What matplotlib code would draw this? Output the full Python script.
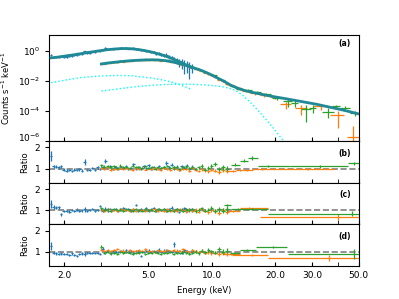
import numpy as np
import matplotlib
matplotlib.use("Agg")
import matplotlib.pyplot as plt
from matplotlib.ticker import FixedLocator, NullLocator, FuncFormatter
from matplotlib.transforms import ScaledTranslation

# ---------------- NICER (blue) ----------------
ni_e = [1.73, 1.78, 1.83, 1.88, 1.93, 1.99, 2.05, 2.11, 2.17, 2.23,
        2.29, 2.36, 2.43, 2.50, 2.57, 2.64, 2.72, 2.80, 2.88, 2.96,
        3.04, 3.13, 3.22, 3.31, 3.40, 3.50, 3.60, 3.70, 3.81, 3.92,
        4.03, 4.14, 4.26, 4.38, 4.50, 4.63, 4.76, 4.89, 5.03, 5.17,
        5.32, 5.47, 5.62, 5.78, 5.94, 6.11, 6.28, 6.46, 6.64, 6.83,
        7.02, 7.22, 7.42, 7.63, 7.85, 8.07]
ni_model = [0.36, 0.37, 0.39, 0.41, 0.43, 0.46, 0.49, 0.52, 0.55, 0.58,
            0.62, 0.66, 0.70, 0.75, 0.80, 0.85, 0.90, 0.96, 1.02, 1.08,
            1.14, 1.20, 1.26, 1.31, 1.36, 1.41, 1.45, 1.48, 1.50, 1.50,
            1.48, 1.45, 1.40, 1.34, 1.27, 1.20, 1.12, 1.04, 0.96, 0.88,
            0.80, 0.72, 0.65, 0.58, 0.51, 0.45, 0.39, 0.33, 0.28, 0.24,
            0.20, 0.17, 0.14, 0.115, 0.095, 0.078]
ni_cnt_err = [0.20, 0.18, 0.18, 0.18, 0.16, 0.16, 0.15, 0.15, 0.14, 0.14,
              0.13, 0.13, 0.12, 0.12, 0.12, 0.11, 0.11, 0.11, 0.10, 0.10,
              0.10, 0.10, 0.10, 0.10, 0.10, 0.10, 0.10, 0.10, 0.10, 0.10,
              0.10, 0.11, 0.11, 0.11, 0.12, 0.12, 0.13, 0.13, 0.14, 0.15,
              0.16, 0.17, 0.18, 0.20, 0.22, 0.25, 0.28, 0.32, 0.38, 0.45,
              0.55, 0.65, 0.80, 0.72, 0.85, 0.60]
ni_rat_b = [1.60, 1.10, 1.08, 1.05, 1.10, 0.95, 0.90, 0.93, 0.88, 0.95,
            0.92, 0.96, 0.90, 1.30, 0.94, 0.92, 1.02, 0.95, 1.05, 0.97,
            1.08, 1.35, 1.03, 1.10, 0.97, 1.05, 1.00, 1.08, 1.02, 1.12,
            0.98, 1.04, 1.20, 1.00, 1.06, 0.97, 1.10, 1.03, 1.15, 1.00,
            1.05, 0.96, 1.12, 1.03, 1.08, 1.25, 1.05, 1.18, 1.02, 1.08,
            0.96, 1.10, 1.04, 1.14, 1.00, 1.06]
ni_rat_c = [1.28, 1.15, 1.12, 1.14, 0.80, 0.95, 0.97, 0.93, 1.00, 0.96,
            1.02, 0.95, 0.99, 1.04, 0.97, 1.00, 1.06, 0.96, 1.02, 1.20,
            0.95, 1.05, 0.98, 1.04, 1.00, 1.07, 0.97, 1.03, 1.10, 0.99,
            1.05, 0.96, 1.02, 1.25, 0.98, 1.04, 1.00, 1.08, 0.97, 1.03,
            1.10, 0.98, 1.05, 1.00, 1.07, 0.96, 1.04, 1.12, 0.99, 1.05,
            0.92, 1.03, 1.08, 0.98, 1.04, 1.00]
ni_rat_d = [1.28, 0.95, 0.93, 0.90, 0.92, 0.88, 0.90, 0.86, 0.92, 0.84,
            0.78, 0.88, 0.92, 0.90, 0.95, 0.93, 0.96, 0.92, 0.95, 0.90,
            1.15, 0.98, 1.02, 0.96, 1.04, 1.00, 0.97, 1.05, 1.00, 1.08,
            0.98, 1.03, 0.96, 1.04, 1.00, 0.80, 0.97, 1.02, 1.05, 0.99,
            1.04, 0.97, 1.10, 1.00, 1.06, 1.06, 1.02, 0.98, 1.35, 1.00,
            1.04, 0.96, 1.08, 1.02, 0.98, 1.05]
ni_rat_err = [0.15, 0.07, 0.07, 0.07, 0.07, 0.06, 0.06, 0.06, 0.06, 0.06,
              0.06, 0.06, 0.06, 0.10, 0.05, 0.05, 0.05, 0.05, 0.05, 0.05,
              0.05, 0.08, 0.05, 0.05, 0.05, 0.05, 0.05, 0.05, 0.05, 0.05,
              0.05, 0.05, 0.07, 0.05, 0.05, 0.05, 0.05, 0.05, 0.06, 0.05,
              0.05, 0.05, 0.06, 0.05, 0.05, 0.07, 0.05, 0.06, 0.08, 0.06,
              0.06, 0.07, 0.07, 0.08, 0.08, 0.09]

# ---------------- NuSTAR (orange = FPMA, green = FPMB) ----------------
nu_e = [3.00, 3.10, 3.21, 3.32, 3.44, 3.56, 3.68, 3.81, 3.94, 4.08,
        4.22, 4.37, 4.52, 4.68, 4.84, 5.01, 5.19, 5.37, 5.56, 5.75,
        5.95, 6.16, 6.38, 6.60, 6.83, 7.07, 7.32, 7.58, 7.84, 8.12,
        8.40, 8.70, 9.00, 9.32, 9.65, 9.99, 10.4, 10.8, 11.3, 11.8]
nu_model = [0.140, 0.150, 0.160, 0.170, 0.180, 0.190, 0.200, 0.210, 0.219, 0.228,
            0.236, 0.243, 0.250, 0.256, 0.261, 0.264, 0.265, 0.263, 0.258, 0.250,
            0.238, 0.223, 0.205, 0.186, 0.166, 0.146, 0.127, 0.111, 0.098, 0.083,
            0.070, 0.060, 0.050, 0.041, 0.033, 0.026, 0.020, 0.015, 0.011, 0.0078]
nu_tail_e = [12.4, 13.2, 14.2, 15.3, 16.6, 18.2, 20.0, 22.5, 25.0, 28.0,
             31.5, 35.5, 40.0, 45.0, 50.0]
nu_tail_model = [5.2e-3, 3.6e-3, 2.5e-3, 1.9e-3, 1.5e-3, 1.15e-3, 9.0e-4, 6.8e-4,
                 5.2e-4, 3.9e-4, 2.9e-4, 2.0e-4, 1.4e-4, 9.5e-5, 6.5e-5]
nu_err = [0.06, 0.06, 0.055, 0.055, 0.05, 0.05, 0.05, 0.05, 0.045, 0.045,
          0.045, 0.045, 0.045, 0.045, 0.045, 0.045, 0.045, 0.045, 0.045, 0.045,
          0.045, 0.045, 0.05, 0.05, 0.05, 0.05, 0.055, 0.055, 0.06, 0.06,
          0.065, 0.07, 0.07, 0.075, 0.08, 0.085, 0.09, 0.10, 0.11, 0.12]

fa_rat_b = [1.02, 0.98, 1.05, 0.95, 1.00, 0.97, 1.04, 0.96, 1.02, 0.99,
            0.94, 1.03, 0.97, 1.01, 0.95, 1.00, 0.96, 1.04, 0.98, 0.93,
            1.02, 0.97, 0.95, 1.03, 0.98, 0.92, 1.00, 0.96, 0.90, 1.02,
            0.95, 0.88, 0.97, 0.92, 0.86, 0.95, 0.90, 0.84, 0.92, 0.87]
fb_rat_b = [1.15, 1.08, 1.12, 1.05, 1.10, 1.02, 1.14, 1.06, 1.09, 1.03,
            1.11, 1.05, 1.08, 1.02, 1.10, 1.04, 1.07, 1.00, 1.09, 1.03,
            1.06, 1.12, 1.01, 1.05, 1.08, 0.98, 1.06, 1.10, 1.02, 1.07,
            0.97, 1.05, 1.12, 0.95, 1.03, 1.10, 1.22, 0.96, 1.05, 1.00]
fa_rat_c = [1.03, 0.97, 1.06, 0.98, 1.01, 0.95, 1.04, 0.99, 1.02, 0.96,
            1.05, 0.98, 1.00, 1.03, 0.96, 1.02, 0.99, 1.06, 0.97, 1.01,
            0.95, 1.04, 0.98, 1.02, 0.97, 1.05, 0.99, 0.94, 1.03, 0.98,
            1.02, 0.93, 1.04, 0.97, 0.90, 1.01, 0.95, 0.88, 1.00, 0.93]
fb_rat_c = [1.08, 1.00, 1.04, 0.97, 1.06, 0.99, 1.03, 0.95, 1.05, 1.00,
            0.97, 1.04, 1.01, 0.96, 1.06, 0.99, 1.02, 0.95, 1.04, 1.00,
            1.07, 0.98, 1.02, 0.96, 1.05, 1.00, 0.97, 1.04, 0.99, 1.06,
            0.95, 1.03, 1.08, 0.97, 1.02, 1.10, 0.96, 1.04, 0.98, 1.05]
fa_rat_d = [1.10, 1.04, 1.08, 1.02, 1.07, 1.12, 1.03, 1.06, 1.00, 1.09,
            1.05, 1.02, 1.08, 1.04, 1.11, 1.03, 1.06, 1.01, 1.09, 1.05,
            1.02, 1.08, 1.04, 1.10, 1.06, 1.03, 1.12, 1.05, 1.00, 1.07,
            1.02, 0.97, 1.04, 0.95, 0.99, 0.92, 0.96, 0.90, 0.94, 0.89]
fb_rat_d = [1.25, 0.95, 0.98, 0.92, 0.96, 0.90, 0.97, 0.93, 0.99, 0.94,
            0.91, 0.96, 0.93, 0.98, 0.90, 0.95, 0.92, 0.97, 0.94, 0.89,
            0.96, 0.93, 0.98, 0.91, 0.95, 0.92, 0.97, 0.94, 0.90, 0.96,
            1.00, 0.93, 1.05, 0.97, 1.08, 1.02, 0.96, 1.12, 1.00, 1.06]

# high-energy spectral bins in the top panel
fa_hi_e = [12.4, 13.4, 14.6, 16.0, 17.8, 20.0, 22.5, 26.6, 33.0, 39.7, 47.0]
fa_hi_xerr = [0.4, 0.5, 0.6, 0.7, 0.8, 1.0, 1.3, 1.8, 2.5, 3.0, 3.0]
fa_hi_cnt = [5.4e-3, 3.3e-3, 2.3e-3, 1.6e-3, 1.25e-3, 8.5e-4, 2.8e-4, 1.6e-4,
             2.1e-4, 6.0e-5, 2.0e-6]
fa_hi_elo = [0.8e-3, 0.6e-3, 0.45e-3, 0.35e-3, 0.3e-3, 2.2e-4, 1.3e-4, 1.0e-4,
             0.9e-4, 5.3e-5, 1.99e-6]
fa_hi_ehi = [0.8e-3, 0.6e-3, 0.45e-3, 0.35e-3, 0.3e-3, 2.2e-4, 1.3e-4, 1.0e-4,
             0.9e-4, 4.0e-5, 9.0e-6]
fb_hi_e = [12.6, 13.6, 14.9, 16.4, 18.2, 20.5, 23.0, 24.8, 28.2, 30.3, 35.8,
           39.0, 43.0, 48.0]
fb_hi_xerr = [0.4, 0.5, 0.6, 0.7, 0.9, 1.1, 1.1, 0.9, 1.6, 1.2, 2.2, 1.6, 2.3, 2.3]
fb_hi_cnt = [4.6e-3, 3.2e-3, 2.6e-3, 1.8e-3, 1.3e-3, 8.0e-4, 4.6e-4, 3.6e-4,
             1.3e-4, 1.6e-4, 9.5e-5, 2.1e-4, 1.6e-4, 7.6e-5]
fb_hi_err = [0.7e-3, 0.55e-3, 0.45e-3, 0.35e-3, 0.28e-3, 2.0e-4, 2.8e-4, 1.6e-4,
             1.1e-4, 0.9e-4, 6.0e-5, 6.5e-5, 5.5e-5, 3.0e-5]

# high-energy (regrouped) bins in the ratio panels: centre, low edge, high edge, ratio, error
fa_hi_b = ([12.6, 13.6, 14.8, 17.3, 28.6], [12.0, 13.1, 14.1, 15.8, 19.8],
           [13.1, 14.1, 15.8, 19.8, 38.0], [0.88, 0.92, 0.95, 0.97, 0.98],
           [0.06, 0.06, 0.05, 0.04, 0.05])
fb_hi_b = ([12.9, 14.2, 15.5, 18.6, 32.8, 47.5], [12.4, 13.6, 14.9, 16.6, 23.5, 44.3],
           [13.6, 14.9, 16.6, 23.5, 44.3, 55.0], [1.18, 1.37, 1.49, 1.10, 1.10, 1.25],
           [0.08, 0.08, 0.09, 0.05, 0.06, 0.08])
fa_hi_c = ([12.6, 15.1, 39.7], [11.9, 13.6, 16.9], [13.6, 18.5, 55.0],
           [0.95, 1.09, 0.69], [0.05, 0.04, 0.15])
fb_hi_c = ([11.9, 13.3, 15.5, 46.6], [11.5, 12.4, 14.2, 18.5], [12.4, 14.2, 18.5, 55.0],
           [1.24, 1.04, 1.07, 0.84], [0.06, 0.05, 0.05, 0.13])
fa_hi_d = ([12.4, 15.6, 36.3], [11.3, 12.5, 18.5], [13.6, 18.5, 55.0],
           [0.89, 0.84, 0.69], [0.04, 0.04, 0.15])
fb_hi_d = ([12.8, 14.8, 19.5, 47.6], [12.2, 13.6, 16.3, 23.0], [13.6, 16.2, 22.8, 55.0],
           [0.95, 1.10, 1.22, 0.89], [0.05, 0.05, 0.05, 0.22])

# model components (dotted)
comp1_e = [1.73, 1.9, 2.1, 2.4, 2.7, 3.1, 3.6, 4.2, 4.6, 5.2, 5.7, 6.2, 6.6, 7.1, 7.5, 8.0]
comp1 = [0.008, 0.010, 0.013, 0.0175, 0.020, 0.023, 0.024, 0.023, 0.0195, 0.016,
         0.013, 0.010, 0.008, 0.0058, 0.0042, 0.0029]
comp2_e = [3.0, 3.5, 4.0, 4.6, 5.3, 6.0, 7.0, 8.0, 9.0, 10.0, 11.0, 12.0, 13.0,
           14.0, 15.0, 16.0, 17.0, 18.0, 19.0, 20.0, 21.0, 22.0, 23.0]
comp2 = [0.0022, 0.0029, 0.0037, 0.0046, 0.0054, 0.0060, 0.0063, 0.0062, 0.0058,
         0.0052, 0.0045, 0.0036, 0.0024, 0.0012, 5e-4, 2e-4, 8e-5, 3.2e-5, 1.3e-5,
         5.5e-6, 2.3e-6, 1e-6, 4.5e-7]

C_NI, C_FA, C_FB = "#1f77b4", "#ff7f0e", "#2ca02c"
C_MOD = "#1f8a96"
FS = 6.5
FS_LAB = 6


def bin_err(e):
    # half bin widths from the geometric midpoints between neighbouring bins
    e = np.asarray(e)
    mids = np.sqrt(e[1:] * e[:-1])
    lo = np.r_[e[0] ** 2 / mids[0], mids]
    hi = np.r_[mids, e[-1] ** 2 / mids[-1]]
    return np.vstack([e - lo, hi - e])


fig = plt.figure(figsize=(3.99, 2.99), dpi=100)
gs = fig.add_gridspec(4, 1, height_ratios=[2.55, 1, 1, 1], hspace=0,
                      left=0.124, right=0.899, top=0.883, bottom=0.110)
axs = [fig.add_subplot(gs[0])]
for i in range(1, 4):
    axs.append(fig.add_subplot(gs[i], sharex=axs[0]))

ekw = dict(fmt="none", elinewidth=0.9, capsize=0)

# ---- (a) spectrum ----
ax = axs[0]
ni_cnt = np.array(ni_model) * np.array(ni_rat_b)
ax.errorbar(ni_e, ni_cnt, xerr=bin_err(ni_e), yerr=ni_cnt * np.array(ni_cnt_err),
            ecolor=C_NI, zorder=2, **ekw)
for rat, col, he, hx, hc, hel, heh in [
        (fa_rat_b, C_FA, fa_hi_e, fa_hi_xerr, fa_hi_cnt, fa_hi_elo, fa_hi_ehi),
        (fb_rat_b, C_FB, fb_hi_e, fb_hi_xerr, fb_hi_cnt, fb_hi_err, fb_hi_err)]:
    cnt = np.array(nu_model) * np.array(rat)
    ax.errorbar(nu_e, cnt, xerr=bin_err(nu_e), yerr=cnt * np.array(nu_err),
                ecolor=col, zorder=2, **ekw)
    ax.errorbar(he, hc, xerr=hx, yerr=[hel, heh], ecolor=col, zorder=2, **ekw)

ax.plot(ni_e, ni_model, color=C_MOD, lw=2, zorder=4)
ax.plot(np.r_[nu_e, nu_tail_e], np.r_[nu_model, nu_tail_model], color=C_MOD, lw=2, zorder=4)
ax.plot(comp1_e, comp1, color="cyan", ls=":", lw=1, zorder=3)
ax.plot(comp2_e, comp2, color="cyan", ls=":", lw=1, zorder=3)

ax.set_yscale("log")
ax.set_ylim(1e-6, 12)
ax.yaxis.set_major_locator(FixedLocator([1e-6, 1e-4, 1e-2, 1]))
ax.yaxis.set_minor_locator(NullLocator())
ax.set_ylabel("Counts s$^{-1}$ keV$^{-1}$", fontsize=FS_LAB)

# ---- (b)-(d) ratios ----
panels = [
    (axs[1], ni_rat_b, fa_rat_b, fb_rat_b, fa_hi_b, fb_hi_b),
    (axs[2], ni_rat_c, fa_rat_c, fb_rat_c, fa_hi_c, fb_hi_c),
    (axs[3], ni_rat_d, fa_rat_d, fb_rat_d, fa_hi_d, fb_hi_d),
]
for ax, rn, ra, rb, ha, hb in panels:
    ax.axhline(1, color="gray", ls="--", lw=1.2, zorder=1)
    ax.errorbar(ni_e, rn, xerr=bin_err(ni_e), yerr=np.array(rn) * np.array(ni_rat_err),
                ecolor=C_NI, zorder=2, **ekw)
    for r, hi, col in [(ra, ha, C_FA), (rb, hb, C_FB)]:
        ax.errorbar(nu_e, r, xerr=bin_err(nu_e), yerr=np.array(r) * np.array(nu_err),
                    ecolor=col, zorder=2, **ekw)
        c, lo, up, val, err = (np.array(v) for v in hi)
        ax.errorbar(c, val, xerr=[c - lo, up - c], yerr=err, ecolor=col, zorder=2, **ekw)
    ax.set_ylim(0.32, 2.3)
    ax.yaxis.set_major_locator(FixedLocator([1, 2]))
    ax.yaxis.set_minor_locator(NullLocator())
    ax.set_ylabel("Ratio", fontsize=FS_LAB)

# ---- shared x axis ----
axs[0].set_xscale("log")
axs[0].set_xlim(1.7, 50)
axs[0].xaxis.set_major_locator(FixedLocator([2, 5, 10, 20, 30, 50]))
axs[0].xaxis.set_minor_locator(FixedLocator([3, 4, 6, 7, 8, 9, 40]))
axs[0].xaxis.set_major_formatter(FuncFormatter(lambda v, p: f"{v:.1f}"))
axs[0].xaxis.set_minor_formatter(FuncFormatter(lambda v, p: ""))

for i, (ax, lab) in enumerate(zip(axs, ["(a)", "(b)", "(c)", "(d)"])):
    ax.tick_params(axis="x", which="both", direction="in", length=3, labelsize=FS,
                   labelbottom=(i == 3))
    ax.tick_params(axis="y", which="both", direction="out", length=3, labelsize=FS)
    ax.text(0.955, 0.92 if i == 0 else 0.71, lab, transform=ax.transAxes,
            ha="center", va="center", fontsize=5.5, fontweight="bold")

axs[3].set_xlabel("Energy (keV)", fontsize=FS_LAB)
fig.align_ylabels(axs[1:])

# nudge the 10^-6 label up a little so it clears the "2" of panel (b)
lab6 = axs[0].yaxis.get_major_ticks()[0].label1
lab6.set_transform(lab6.get_transform() + ScaledTranslation(0, 3.5 / 72, fig.dpi_scale_trans))

fig.savefig("out.png", dpi=100)
